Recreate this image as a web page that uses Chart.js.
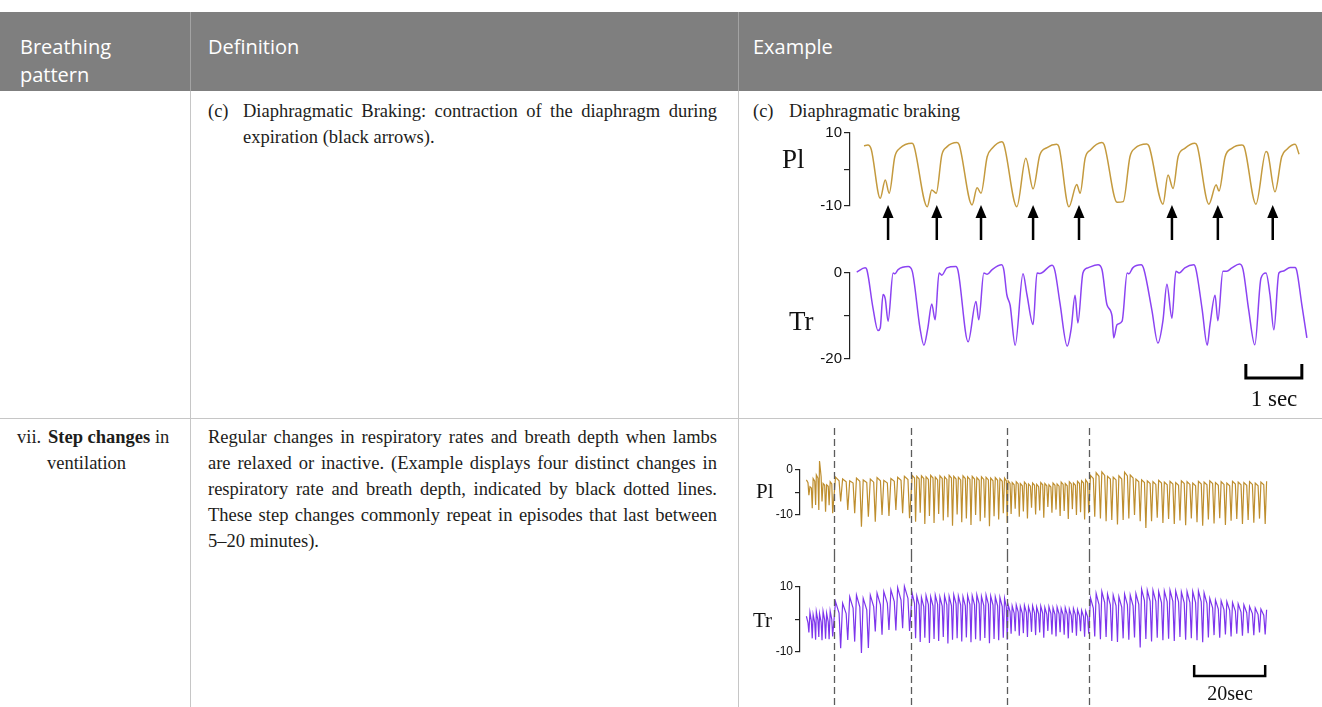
<!DOCTYPE html>
<html>
<head>
<meta charset="utf-8">
<title>Breathing patterns</title>
<script src="https://cdn.jsdelivr.net/npm/chart.js@4.4.1/dist/chart.umd.min.js"></script>
<style>
  html, body { margin: 0; padding: 0; background: #fff; }
  #page { position: relative; width: 1322px; height: 707px; overflow: hidden; }
  #page div { position: absolute; white-space: nowrap; }
  .head { left: 0; top: 12px; width: 1322px; height: 79px; background: #7f7f7f; }
  .htxt { color: #fff; font-family: 'Open Sans', sans-serif; font-size: 20px; line-height: 28px; }
  .vline { width: 1px; background: #c6c6c6; }
  .hdiv { width: 1px; background: #a3a3a3; }
  .hline { height: 1px; background: #c6c6c6; }
  .serif { font-family: 'Liberation Serif', 'Times New Roman', serif; color: #1d1d1b; font-size: 18.5px; line-height: 26px; }
  .just { text-align: justify; text-align-last: justify; }
  .lab { font-family: 'Liberation Serif', 'Times New Roman', serif; color: #111; }
  canvas { position: absolute; }
</style>
</head>
<body>
<div id="page">
  <div class="head"></div>
  <div class="hdiv" style="left:190px; top:12px; height:79px;"></div>
  <div class="hdiv" style="left:738px; top:12px; height:79px;"></div>
  <div class="htxt" style="left:20px; top:33px;">Breathing<br>pattern</div>
  <div class="htxt" style="left:208px; top:33px;">Definition</div>
  <div class="htxt" style="left:753px; top:33px;">Example</div>

  <div class="vline" style="left:190px; top:91px; height:616px;"></div>
  <div class="vline" style="left:738px; top:91px; height:616px;"></div>
  <div class="hline" style="left:0; top:418px; width:1322px;"></div>

  <!-- row (c) -->
  <div class="serif" style="left:208px; top:98px;">(c)</div>
  <div class="serif just" style="left:243px; top:98px; width:474px;">Diaphragmatic Braking: contraction of the diaphragm during</div>
  <div class="serif" style="left:243px; top:124px;">expiration (black arrows).</div>
  <div class="serif" style="left:753px; top:98px;">(c)</div>
  <div class="serif" style="left:789px; top:98px;">Diaphragmatic braking</div>

  <!-- row vii -->
  <div class="serif" style="left:17px; top:424px;">vii.</div>
  <div class="serif" style="left:48px; top:424px;"><b>Step changes</b> in</div>
  <div class="serif" style="left:47px; top:450px;">ventilation</div>
  <div class="serif just" style="left:208px; top:424px; width:509px;">Regular changes in respiratory rates and breath depth when lambs</div>
  <div class="serif just" style="left:208px; top:450px; width:509px;">are relaxed or inactive. (Example displays four distinct changes in</div>
  <div class="serif just" style="left:208px; top:476px; width:509px;">respiratory rate and breath depth, indicated by black dotted lines.</div>
  <div class="serif just" style="left:208px; top:502px; width:509px;">These step changes commonly repeat in episodes that last between</div>
  <div class="serif" style="left:208px; top:528px;">5–20 minutes).</div>

  <canvas id="brakePlChart" width="532" height="130" style="left:790px; top:120px;"></canvas>
  <canvas id="brakeTrChart" width="532" height="160" style="left:790px; top:255px;"></canvas>
  <canvas id="stepPlChart" width="582" height="135" style="left:740px; top:420px;"></canvas>
  <canvas id="stepTrChart" width="582" height="152" style="left:740px; top:555px;"></canvas>

  <div class="lab" style="left:782px; top:145px; font-size:27px; line-height:28px;">Pl</div>
  <div class="lab" style="left:789px; top:307px; font-size:27px; line-height:28px;">Tr</div>
  <div class="lab" style="left:1234px; top:387px; width:80px; text-align:center; font-size:23px; line-height:24px;">1 sec</div>
  <div class="lab" style="left:756px; top:480px; font-size:21px; line-height:22px;">Pl</div>
  <div class="lab" style="left:753px; top:609px; font-size:21px; line-height:22px;">Tr</div>
  <div class="lab" style="left:1190px; top:683px; width:80px; text-align:center; font-size:20px; line-height:20px;">20sec</div>
</div>

<script>
// (c) Diaphragmatic braking, time in seconds
const brakePlTime = [
  0.25, 0.32, 0.38, 0.54, 0.63, 0.70,
  0.80, 0.89, 1.11, 1.14, 1.38, 1.46, 1.54,
  1.64, 1.73, 1.91, 1.95, 2.18, 2.27, 2.34,
  2.45, 2.54, 2.71, 2.75, 2.98, 3.14, 3.27,
  3.39, 3.52, 3.69, 3.73, 3.91, 4.05, 4.11,
  4.20, 4.29, 4.50, 4.54, 4.77, 4.88,
  5.00, 5.09, 5.30, 5.34, 5.59, 5.68, 5.77,
  5.86, 5.98, 6.16, 6.20, 6.41, 6.54, 6.59,
  6.70, 6.82, 7.00, 7.04, 7.25, 7.43, 7.46, 7.59,
  7.71, 7.80, 7.95, 8.02
];
const brakePl = [
  6.5, 6.7, 5.5, -7.9, -2.9, -6.5,
  3.5, 5.8, 7.2, 6.6, -10.2, -5.6, -6.5,
  4.0, 6.2, 7.4, 6.8, -9.7, -5.0, -6.5,
  3.5, 5.8, 7.6, 6.8, -10.2, 3.1, -5.3,
  4.0, 6.0, 6.9, 6.3, -10.2, -4.1, -6.5,
  3.1, 5.3, 7.4, 6.8, -9.0, -8.8,
  3.5, 5.8, 7.0, 6.4, -9.5, -1.5, -5.2,
  3.5, 5.8, 7.2, 6.5, -9.5, -4.2, -5.9,
  3.5, 5.8, 6.7, 6.2, -9.5, 4.9, 4.5, -6.1,
  3.5, 5.5, 6.9, 4.2
];
const brakeTrTime = [
  0.12, 0.27, 0.30, 0.41, 0.50, 0.54, 0.59, 0.63, 0.68,
  0.77, 0.80, 0.86, 1.04, 1.11, 1.25, 1.32, 1.39, 1.46, 1.52,
  1.59, 1.64, 1.73, 1.89, 1.93, 2.11, 2.25, 2.30,
  2.39, 2.45, 2.54, 2.71, 2.75, 2.80, 2.86, 2.95, 3.09, 3.16, 3.27,
  3.34, 3.39, 3.61, 3.66, 3.75, 3.88, 3.95, 4.02, 4.07,
  4.16, 4.25, 4.43, 4.50, 4.59, 4.68, 4.71, 4.77, 4.86,
  4.95, 4.98, 5.05, 5.20, 5.25, 5.39, 5.50, 5.59, 5.66, 5.75,
  5.82, 5.88, 5.98, 6.14, 6.18, 6.29, 6.38, 6.43, 6.52, 6.57,
  6.66, 6.73, 6.82, 6.96, 7.02, 7.12, 7.23, 7.34, 7.43, 7.50, 7.57,
  7.66, 7.73, 7.86, 7.95, 7.98, 8.07, 8.16
];
const brakeTr = [
  0.2, 1.2, 0.8, -8.1, -13.4, -12.8, -5.0, -6.0, -11.2,
  0.0, -0.2, 0.8, 1.5, 0.5, -12.8, -16.8, -12.8, -7.2, -10.9,
  0.0, -0.5, 1.2, 1.5, 0.5, -16.0, -6.6, -10.9,
  0.0, -0.3, 0.8, 1.9, 0.5, -5.0, -7.5, -16.8, -0.2, -5.0, -12.0,
  0.0, -0.1, 1.8, 0.5, -7.0, -17.0, -13.0, -5.2, -11.6,
  0.0, 1.2, 1.9, 0.8, -7.4, -10.0, -15.1, -12.0, -11.2,
  0.0, -0.2, 1.2, 1.9, 0.8, -8.5, -16.3, -11.0, -2.6, -10.5,
  0.4, 0.0, 1.2, 1.9, 0.8, -8.5, -16.8, -12.0, -5.2, -11.1,
  0.4, 0.4, 1.2, 2.1, 0.8, -8.5, -16.7, -1.2, 0.0, -5.0, -13.2,
  0.0, 0.4, 1.3, 1.3, 0.5, -7.4, -15.1
];
const brakeArrows = [0.68, 1.55, 2.34, 3.27, 4.09, 5.75, 6.57, 7.55];
const brakeSecBar = [7.07, 8.07];

// vii. Step changes: each breath = peak, end of plateau, trough (seconds)
const stepTime = [
  1.8, 2.25, 2.5, 2.8, 3.2, 3.45, 3.7, 4.15, 4.4, 4.6, 5.05, 5.3,
  5.5, 5.95, 6.2, 6.5, 6.95, 7.2, 7.5, 7.95, 8.2, 8.5, 8.95, 9.2,
  10.0, 11.0, 11.45, 12.0, 13.0, 13.45, 14.0, 14.95, 15.4, 15.9, 16.85, 17.3,
  17.8, 18.8, 19.25, 19.8, 20.75, 21.2, 21.7, 22.65, 23.1, 23.6, 24.6, 25.05,
  25.6, 26.55, 27.0, 27.5, 28.45, 28.9, 29.4, 30.4, 30.85,
  31.6, 32.25, 32.55, 32.9, 33.55, 33.85, 34.2, 34.85, 35.15, 35.5, 36.15, 36.45,
  36.8, 37.45, 37.75, 38.1, 38.75, 39.05, 39.4, 40.05, 40.35, 40.7, 41.35, 41.65,
  42.0, 42.65, 42.95, 43.3, 43.95, 44.25, 44.6, 45.25, 45.55, 45.9, 46.55, 46.85,
  47.2, 47.85, 48.15, 48.5, 49.15, 49.45, 49.8, 50.45, 50.75, 51.1, 51.75, 52.05,
  52.4, 53.05, 53.35, 53.7, 54.35, 54.65, 55.0, 55.65, 55.95, 56.3, 56.95, 57.25,
  57.6, 58.1, 58.35,
  58.6, 59.15, 59.45, 59.75, 60.3, 60.6, 60.9, 61.45, 61.75, 62.05, 62.6, 62.9,
  63.2, 63.75, 64.05, 64.35, 64.9, 65.2, 65.5, 66.05, 66.35, 66.65, 67.2, 67.5,
  67.8, 68.35, 68.65, 68.95, 69.5, 69.8, 70.1, 70.65, 70.95, 71.25, 71.8, 72.1,
  72.4, 72.95, 73.25, 73.55, 74.1, 74.4, 74.7, 75.25, 75.55, 75.85, 76.4, 76.7,
  77.0, 77.55, 77.85, 78.15, 78.7, 79.0, 79.3, 79.85, 80.15, 80.45, 81.0, 81.3,
  81.8, 82.6, 83.0, 83.4, 84.2, 84.6, 85.0, 85.8, 86.2, 86.6, 87.4, 87.8,
  88.2, 89.0, 89.4, 89.8, 90.6, 91.0, 91.4, 92.2, 92.6, 93.0, 93.8, 94.2,
  94.6, 95.4, 95.8, 96.2, 97.0, 97.4, 97.8, 98.6, 99.0, 99.4, 100.2, 100.6,
  101.0, 101.8, 102.2, 102.6, 103.4, 103.8, 104.2, 105.0, 105.4, 105.8, 106.6, 107.0,
  107.4, 108.2, 108.6, 109.0, 109.8, 110.2, 110.6, 111.4, 111.8, 112.2, 113.0, 113.4,
  113.8, 114.6, 115.0, 115.4, 116.2, 116.6, 117.0, 117.8, 118.2, 118.6, 119.4, 119.8,
  120.2, 121.0, 121.4, 121.8, 122.6, 123.0, 123.4, 124.2, 124.6, 125.0, 125.8, 126.2,
  126.6, 127.4, 127.8, 128.2, 129.0, 129.4, 129.8, 130.6, 131.0, 131.4
];
const stepPl = [
  -2.2, -2.8, -5.6, -3.7, -4.0, -8.5, -1.9, -2.5, -7.8, -1.1, -1.8, -8.9,
  2.0, -1.5, -7.0, -3.0, -3.4, -9.3, -3.3, -3.6, -7.8, -2.6, -3.1, -9.6,
  -1.6, -2.4, -7.0, -2.0, -2.6, -8.9, -2.4, -2.9, -9.6, -1.8, -2.5, -12.6,
  -2.2, -2.8, -10.4, -2.0, -2.7, -11.5, -1.7, -2.4, -10.0, -2.3, -2.9, -10.2,
  -1.9, -2.5, -8.9, -1.6, -2.3, -9.6, -1.4, -2.1, -10.7,
  -1.2, -1.8, -11.5, -1.4, -2.0, -9.5, -1.3, -1.9, -12.0, -1.5, -2.1, -10.2,
  -1.2, -1.8, -11.8, -1.6, -2.2, -9.8, -1.3, -1.9, -11.2, -1.5, -2.1, -10.5,
  -1.2, -1.8, -12.4, -1.4, -2.0, -9.9, -1.6, -2.2, -11.6, -1.3, -1.9, -10.8,
  -1.5, -2.1, -12.2, -1.4, -2.0, -10.0, -1.7, -2.3, -11.4, -1.5, -2.1, -10.6,
  -1.6, -2.2, -12.5, -1.8, -2.4, -10.3, -1.7, -2.3, -11.0, -1.9, -2.5, -9.6,
  -1.8, -2.4, -11.8,
  -2.4, -3.0, -9.8, -2.8, -3.3, -8.6, -2.6, -3.1, -10.4, -3.0, -3.5, -9.2,
  -2.7, -3.2, -10.8, -3.1, -3.6, -8.4, -2.9, -3.4, -9.9, -3.2, -3.7, -9.0,
  -2.8, -3.3, -10.6, -3.0, -3.5, -8.2, -3.3, -3.8, -9.5, -2.9, -3.4, -8.8,
  -3.1, -3.6, -10.2, -2.7, -3.2, -9.1, -3.0, -3.5, -10.9, -2.6, -3.1, -8.7,
  -2.9, -3.4, -10.0, -2.5, -3.0, -9.4, -2.4, -2.9, -11.0, -2.2, -2.8, -9.6,
  -1.2, -1.9, -10.4, -0.6, -1.4, -10.8, -0.4, -1.2, -11.4, -1.4, -2.0, -11.1,
  -1.6, -2.2, -12.1, -1.3, -2.0, -11.1, -0.5, -1.3, -10.8, -1.1, -1.8, -10.0,
  -2.0, -2.6, -11.4, -2.2, -2.8, -12.9, -2.4, -3.0, -11.4, -2.6, -3.2, -10.6,
  -2.3, -2.9, -11.8, -2.7, -3.3, -10.9, -2.5, -3.1, -12.0, -2.8, -3.4, -11.2,
  -2.4, -3.0, -12.3, -2.6, -3.2, -10.8, -2.9, -3.5, -11.6, -2.5, -3.1, -12.4,
  -2.7, -3.3, -11.0, -2.4, -3.0, -11.9, -2.8, -3.4, -10.7, -2.6, -3.2, -12.2,
  -2.9, -3.5, -11.3, -2.5, -3.1, -10.9, -2.7, -3.3, -12.0, -2.8, -3.4, -11.1,
  -2.6, -3.2, -11.7, -2.9, -3.5, -10.8, -2.7, -3.3, -12.0, -2.5
];
const stepTr = [
  1.0, -1.0, -4.0, 2.2, -0.5, -5.8, 1.5, -1.0, -6.2, 2.4, -0.3, -5.4,
  1.8, -0.8, -6.4, 2.5, -0.2, -5.9, 1.9, -0.7, -6.1, 2.6, 0.0, -5.2,
  5.5, 2.0, -8.8, 5.0, 1.8, -6.3, 7.0, 3.5, -6.8, 7.5, 3.8, -10.3,
  6.5, 3.0, -8.8, 7.5, 4.0, -3.7, 8.1, 4.5, -4.7, 8.6, 5.0, -3.2,
  9.1, 5.5, -3.4, 9.8, 6.0, -2.7, 10.2, 6.5, -3.5,
  8.0, 5.0, -5.8, 7.2, 4.4, -6.9, 6.8, 4.0, -5.6, 7.4, 4.6, -7.2,
  7.0, 4.2, -6.0, 7.5, 4.7, -6.6, 6.9, 4.1, -5.4, 7.3, 4.5, -7.4,
  7.1, 4.3, -6.2, 7.6, 4.8, -5.8, 7.2, 4.4, -6.8, 7.0, 4.2, -5.5,
  7.4, 4.6, -7.0, 7.3, 4.5, -6.1, 7.6, 4.8, -6.5, 7.1, 4.3, -5.7,
  7.5, 4.7, -7.3, 7.2, 4.4, -6.0, 7.0, 4.2, -6.4, 6.8, 4.0, -5.6,
  6.5, 3.8, -6.2,
  4.6, 2.4, -4.4, 4.2, 2.0, -3.6, 4.5, 2.3, -5.0, 4.0, 1.9, -4.2,
  4.3, 2.1, -5.4, 3.9, 1.8, -3.8, 4.2, 2.0, -4.8, 3.8, 1.7, -4.0,
  4.1, 1.9, -5.6, 3.7, 1.6, -3.5, 3.9, 1.8, -4.6, 3.6, 1.5, -5.2,
  3.8, 1.7, -3.9, 3.4, 1.4, -4.7, 3.6, 1.5, -5.8, 3.2, 1.2, -4.1,
  3.4, 1.4, -5.0, 3.0, 1.1, -3.6, 2.8, 0.9, -5.3, 2.6, 0.8, -4.4,
  6.7, 3.5, -5.2, 8.0, 4.6, -6.1, 8.6, 5.2, -5.4, 7.8, 4.5, -6.6,
  7.5, 4.2, -6.9, 7.0, 3.8, -5.8, 7.8, 4.5, -6.2, 7.5, 4.2, -5.5,
  8.0, 4.7, -8.6, 9.3, 5.8, -6.0, 9.0, 5.6, -6.8, 9.0, 5.6, -5.6,
  8.6, 5.2, -6.4, 8.8, 5.4, -5.9, 9.0, 5.6, -6.6, 8.8, 5.4, -5.4,
  8.5, 5.1, -6.2, 8.6, 5.2, -5.8, 8.6, 5.2, -6.4, 8.8, 5.4, -7.0,
  8.2, 4.9, -5.5, 6.5, 3.6, -4.8, 6.0, 3.2, -5.6, 5.8, 3.0, -4.6,
  5.5, 2.8, -5.2, 5.2, 2.6, -4.4, 4.8, 2.3, -5.0, 4.5, 2.1, -4.2,
  4.0, 1.8, -4.8, 3.5, 1.5, -4.0, 3.2, 1.3, -4.6, 3.0
];
const stepMarks = [9.6, 31.3, 58.3, 81.4];
const stepSecBar = [111, 131];

const goldColor = '#c49a3e';
const purpleColor = '#8b43f2';

// arrows under the Pl trace
const arrowPlugin = {
  id: 'arrows',
  afterDatasetsDraw(chart, args, opts) {
    if (!opts.times) return;
    const { ctx, chartArea, scales } = chart;
    ctx.save();
    ctx.fillStyle = '#000';
    ctx.strokeStyle = '#000';
    ctx.lineWidth = 2.5;
    opts.times.forEach(t => {
      const x = scales.x.getPixelForValue(t);
      const tip = chartArea.bottom - 1;
      ctx.beginPath();
      ctx.moveTo(x, tip + 10);
      ctx.lineTo(x, tip + 35);
      ctx.stroke();
      ctx.beginPath();
      ctx.moveTo(x, tip);
      ctx.lineTo(x - 5.5, tip + 13);
      ctx.lineTo(x + 5.5, tip + 13);
      ctx.closePath();
      ctx.fill();
    });
    ctx.restore();
  }
};

// time scale bracket
const scaleBarPlugin = {
  id: 'scaleBar',
  afterDatasetsDraw(chart, args, opts) {
    if (!opts.range) return;
    const { ctx, chartArea, scales } = chart;
    const x0 = scales.x.getPixelForValue(opts.range[0]);
    const x1 = scales.x.getPixelForValue(opts.range[1]);
    const y = chartArea.bottom + opts.offset;
    ctx.save();
    ctx.strokeStyle = '#000';
    ctx.lineWidth = opts.width;
    ctx.beginPath();
    ctx.moveTo(x0, y - opts.tick);
    ctx.lineTo(x0, y);
    ctx.lineTo(x1, y);
    ctx.lineTo(x1, y - opts.tick);
    ctx.stroke();
    ctx.restore();
  }
};

// dashed lines marking the step changes
const stepLinePlugin = {
  id: 'stepLines',
  afterDatasetsDraw(chart, args, opts) {
    if (!opts.times) return;
    const { ctx, scales, height } = chart;
    ctx.save();
    ctx.strokeStyle = '#5c5c5c';
    ctx.lineWidth = 1.3;
    ctx.setLineDash([7, 4]);
    opts.times.forEach(t => {
      const x = Math.round(scales.x.getPixelForValue(t)) + 0.5;
      ctx.beginPath();
      ctx.moveTo(x, opts.from);
      ctx.lineTo(x, height);
      ctx.stroke();
    });
    ctx.restore();
  }
};

function traceChart(id, times, values, color, cfg) {
  return new Chart(document.getElementById(id), {
    type: 'line',
    data: {
      datasets: [{
        data: times.map((t, i) => ({ x: t, y: values[i] })),
        borderColor: color,
        borderWidth: cfg.lineWidth,
        pointRadius: 0,
        cubicInterpolationMode: cfg.smooth ? 'monotone' : 'default',
        tension: 0,
        clip: false
      }]
    },
    options: {
      responsive: false,
      animation: false,
      devicePixelRatio: 1,
      layout: { padding: { top: cfg.padTop, bottom: cfg.padBottom, left: 0, right: 0 } },
      plugins: {
        legend: { display: false },
        tooltip: { enabled: false },
        arrows: { times: cfg.arrows },
        scaleBar: cfg.scaleBar || {},
        stepLines: cfg.marks ? { times: cfg.marks, from: cfg.marksFrom } : {}
      },
      scales: {
        x: { type: 'linear', min: 0, max: cfg.xMax, display: false },
        y: {
          min: cfg.yMin,
          max: cfg.yMax,
          afterFit: scale => { scale.width = 60; },
          border: { display: true, color: '#222', width: 1.2 },
          grid: { drawOnChartArea: false, drawTicks: true, tickLength: cfg.tickLength, color: '#222', lineWidth: 1.2 },
          ticks: {
            stepSize: cfg.step,
            autoSkip: false,
            padding: 2,
            color: '#111',
            font: { family: 'Liberation Sans', size: cfg.fontSize },
            callback: v => (cfg.labels.includes(v) ? String(v) : '')
          }
        }
      }
    },
    plugins: [arrowPlugin, scaleBarPlugin, stepLinePlugin]
  });
}

traceChart('brakePlChart', brakePlTime, brakePl, goldColor, {
  lineWidth: 1.5, smooth: true, padTop: 13, padBottom: 44, xMax: 8.43,
  yMin: -10, yMax: 10, step: 10, labels: [10, -10], tickLength: 6, fontSize: 15,
  arrows: brakeArrows
});

traceChart('brakeTrChart', brakeTrTime, brakeTr, purpleColor, {
  lineWidth: 1.5, smooth: true, padTop: 18, padBottom: 56, xMax: 8.43,
  yMin: -20, yMax: 0, step: 10, labels: [0, -20], tickLength: 6, fontSize: 15,
  scaleBar: { range: brakeSecBar, offset: 19, tick: 14, width: 3 }
});

traceChart('stepPlChart', stepTime, stepPl, '#be8e2e', {
  lineWidth: 1.2, smooth: false, padTop: 50, padBottom: 40, xMax: 147,
  yMin: -10, yMax: 0, step: 5, labels: [0, -10], tickLength: 5, fontSize: 12,
  marks: stepMarks, marksFrom: 8
});

traceChart('stepTrChart', stepTime, stepTr, '#7d35ec', {
  lineWidth: 1.2, smooth: false, padTop: 32, padBottom: 55, xMax: 147,
  yMin: -10, yMax: 10, step: 10, labels: [10, -10], tickLength: 5, fontSize: 12,
  marks: stepMarks, marksFrom: 0,
  scaleBar: { range: stepSecBar, offset: 24, tick: 11, width: 2.5 }
});
</script>
</body>
</html>
